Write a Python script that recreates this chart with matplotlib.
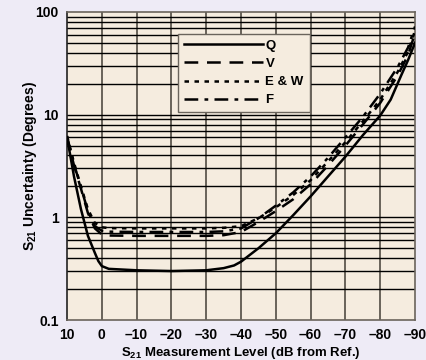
import matplotlib
matplotlib.use("Agg")
import matplotlib.pyplot as plt
import numpy as np

plt.rcParams['font.family'] = ['Liberation Sans', 'DejaVu Sans']
plt.rcParams['font.weight'] = 'bold'
plt.rcParams['mathtext.fontset'] = 'custom'
plt.rcParams['mathtext.rm'] = 'Liberation Sans:bold'
plt.rcParams['mathtext.bf'] = 'Liberation Sans:bold'

# Measurement level (dB from reference) for each curve sample
level_q = [10, 8, 6, 4, 2, 1, 0, -2, -10, -20, -30, -35, -38, -40, -45, -50, -55, -60, -65, -70, -75, -80, -83, -86, -88, -90]
unc_q = [6.0, 2.5, 1.2, 0.66, 0.45, 0.375, 0.335, 0.315, 0.305, 0.30, 0.305, 0.32, 0.34, 0.37, 0.50, 0.70, 1.05, 1.6, 2.5, 3.9, 6.3, 9.8, 14, 24, 34, 50]

level_dash = [10, 8, 6, 4, 2, 0, -2, -10, -20, -30, -35, -40, -45, -50, -55, -60, -65, -70, -75, -80, -85, -88, -90]
unc_v = [6.0, 3.2, 1.9, 1.1, 0.78, 0.68, 0.665, 0.66, 0.66, 0.66, 0.67, 0.72, 0.90, 1.15, 1.50, 2.1, 3.2, 5.0, 8.0, 13, 24, 38, 62]
unc_ew = [6.2, 3.4, 2.0, 1.2, 0.88, 0.80, 0.785, 0.78, 0.78, 0.78, 0.79, 0.82, 0.98, 1.25, 1.65, 2.3, 3.5, 5.4, 8.6, 14, 26, 41, 66]
unc_f = [6.1, 3.3, 1.95, 1.15, 0.82, 0.74, 0.725, 0.72, 0.72, 0.72, 0.73, 0.78, 0.98, 1.30, 1.75, 2.5, 3.8, 6.0, 9.5, 16, 29, 45, 72]

series_names = ['Q', 'V', 'E & W', 'F']

x_ticks = [10, 0, -10, -20, -30, -40, -50, -60, -70, -80, -90]
x_tick_labels = ['10', '0', '\u201310', '\u201320', '\u201330', '\u201340', '\u201350',
                 '\u201360', '\u201370', '\u201380', '\u201390']
y_ticks = [0.1, 1, 10, 100]
y_tick_labels = ['0.1', '1', '10', '100']

fig = plt.figure(figsize=(4.27, 3.6), dpi=100)
fig.patch.set_facecolor('#EEEBF6')
ax = fig.add_axes([0.157, 0.111, 0.815, 0.856])
ax.set_facecolor('#F5ECDF')

ax.set_yscale('log')
ax.set_xlim(10, -90)
ax.set_ylim(0.1, 100)

# Grid: vertical every 10 dB, horizontal at every log minor step
for xv in x_ticks[1:-1]:
    ax.axvline(xv, color='#5E5850', lw=1.3, zorder=1)
for dec in [0.1, 1, 10]:
    for m in range(1, 10):
        v = dec * m
        if v <= 0.1:
            continue
        ax.axhline(v, color='black', lw=1.0, zorder=1)

lw = 1.8
ax.plot(level_q, unc_q, color='black', lw=lw, ls='-', label=series_names[0], zorder=3)
ax.plot(level_dash, unc_v, color='black', lw=lw, ls=(0, (5.5, 3.5)), label=series_names[1], zorder=3)
ax.plot(level_dash, unc_ew, color='black', lw=lw, ls=(0, (1.8, 2.2)), label=series_names[2], zorder=3)
ax.plot(level_dash, unc_f, color='black', lw=lw, ls=(0, (5.5, 2.5, 1.5, 2.5)), label=series_names[3], zorder=3)

ax.set_xticks(x_ticks)
ax.set_xticklabels(x_tick_labels)
ax.set_yticks(y_ticks)
ax.set_yticklabels(y_tick_labels)
ax.yaxis.set_minor_locator(matplotlib.ticker.NullLocator())
ax.tick_params(axis='both', length=0, labelsize=10, pad=6)
for lab in ax.get_xticklabels() + ax.get_yticklabels():
    lab.set_fontweight('bold')

for side in ['top', 'right', 'bottom']:
    ax.spines[side].set_color('#6A645C')
    ax.spines[side].set_linewidth(1.2)
ax.spines['left'].set_color('#222222')
ax.spines['left'].set_linewidth(1.2)

ax.set_xlabel(r'S$_{21}$ Measurement Level (dB from Ref.)', fontsize=9.5, fontweight='bold', labelpad=2)
ax.set_ylabel(r'S$_{21}$ Uncertainty (Degrees)', fontsize=10, fontweight='bold')
ax.yaxis.set_label_coords(-0.08, 0.5)

leg = ax.legend(loc='upper left', bbox_to_anchor=(0.318, 0.929), handlelength=6.0,
                handletextpad=0.2, labelspacing=0.45, fontsize=9.5, frameon=True,
                fancybox=False, borderpad=0.45, borderaxespad=0)
leg.get_frame().set_facecolor('#F5ECDF')
leg.get_frame().set_edgecolor('#6A645C')
leg.get_frame().set_linewidth(1.0)
leg.get_frame().set_alpha(1)
for t in leg.get_texts():
    t.set_fontweight('bold')
leg.set_zorder(5)

fig.savefig('out.png', dpi=100, facecolor=fig.get_facecolor())
